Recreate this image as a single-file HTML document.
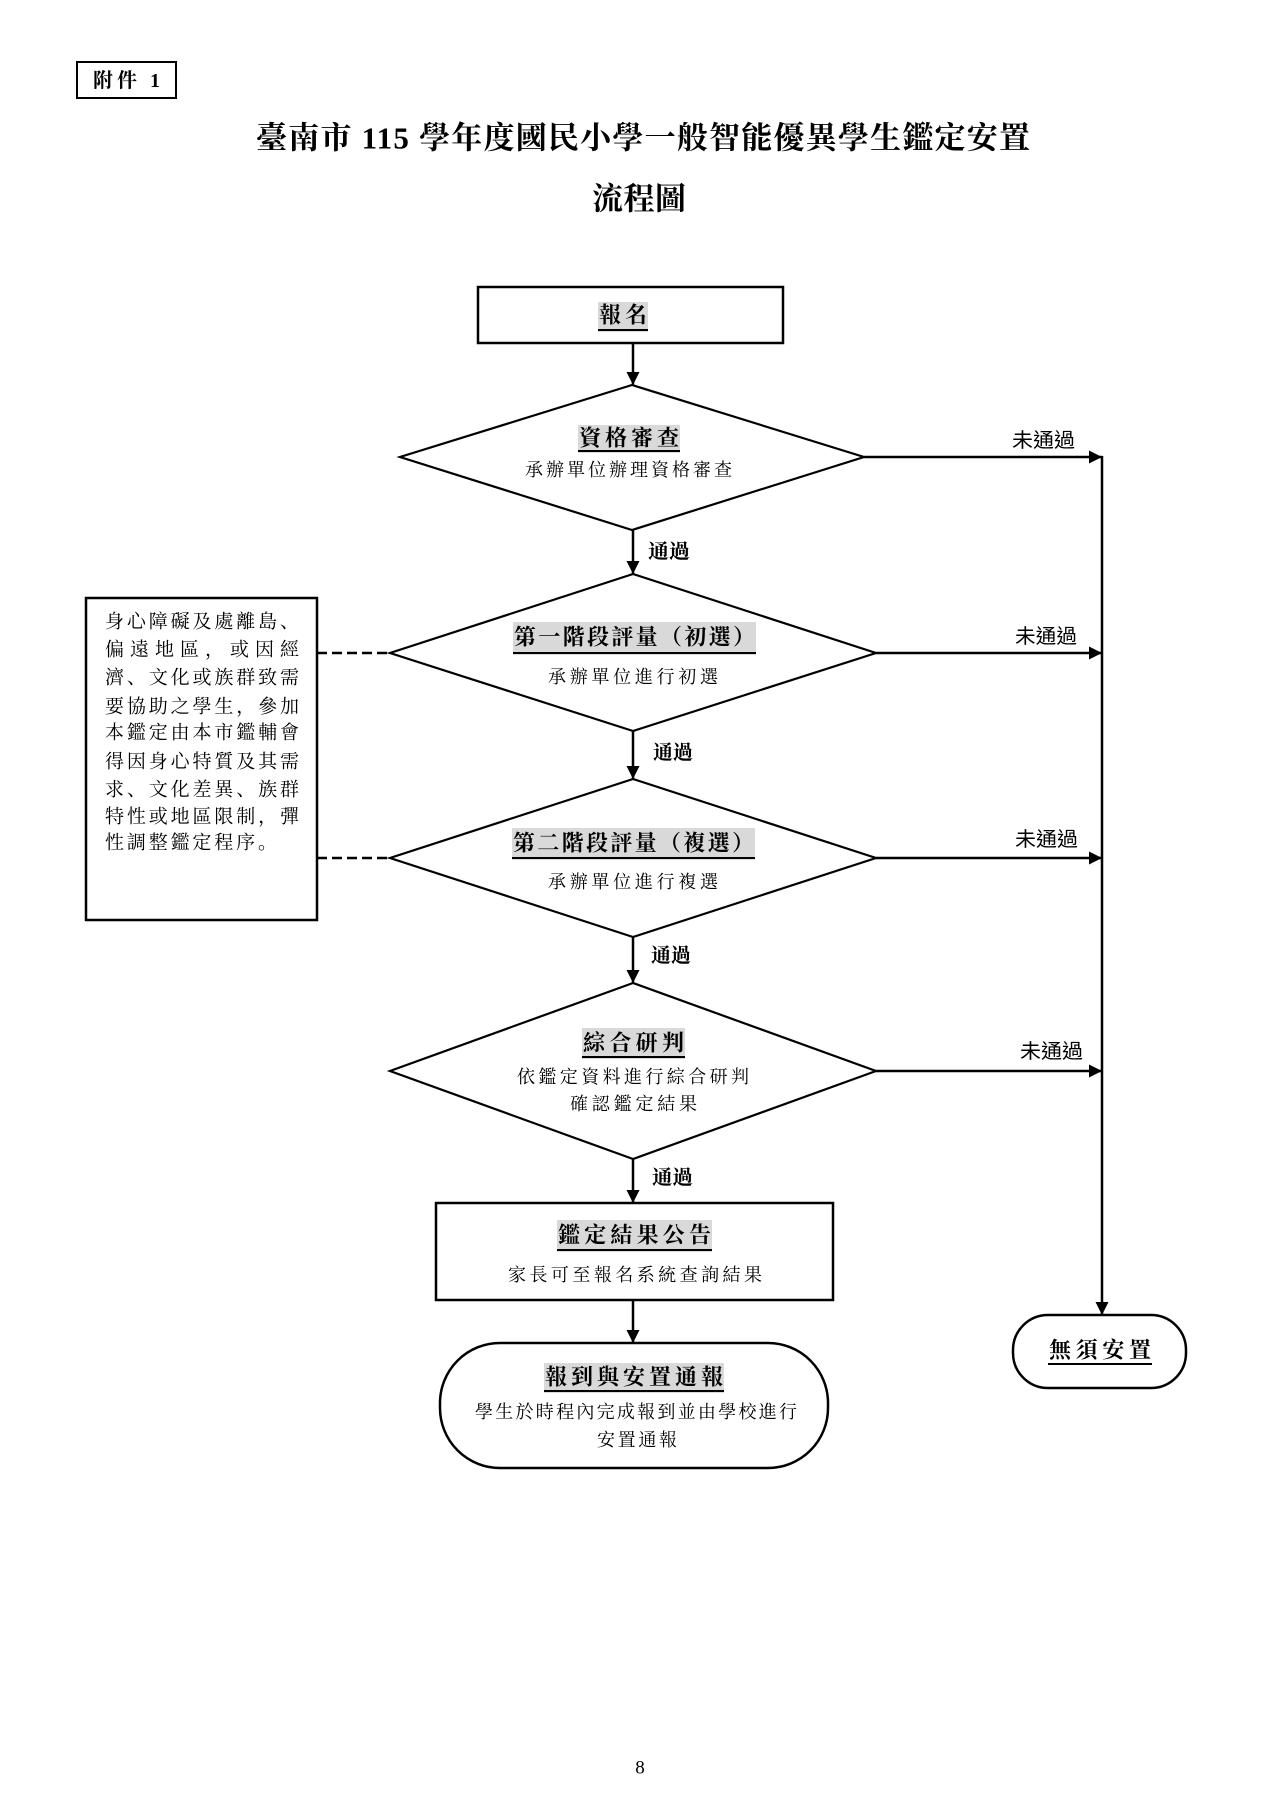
<!DOCTYPE html>
<html>
<head>
<meta charset="utf-8">
<style>
  html, body { margin: 0; padding: 0; background: #fff; }
  body { width: 1280px; height: 1810px; overflow: hidden; }
  svg { display: block; }
  .serif { font-family: "Liberation Serif", "Noto Serif CJK SC", serif; }
  .sans { font-family: "Liberation Sans", "Noto Sans CJK TC", sans-serif; }
  .t { dominant-baseline: central; fill: #000; }
</style>
</head>
<body>
<svg width="1280" height="1810" viewBox="0 0 1280 1810" xmlns="http://www.w3.org/2000/svg">
  <defs>
    <marker id="ah" viewBox="0 0 13 13" refX="13" refY="6.5" markerWidth="13" markerHeight="13" markerUnits="userSpaceOnUse" orient="auto">
      <polygon points="0,0 13,6.5 0,13" fill="#000"/>
    </marker>
  </defs>

  <!-- 附件 1 -->
  <rect x="77" y="62" width="99" height="36" fill="none" stroke="#000" stroke-width="2"/>
  <text class="t serif" x="93" y="81" font-size="20" font-weight="bold" textLength="67" lengthAdjust="spacing">附件 1</text>

  <!-- Title -->
  <text class="t serif" x="256" y="138" font-size="31" font-weight="bold" textLength="774" lengthAdjust="spacing">臺南市 115 學年度國民小學一般智能優異學生鑑定安置</text>
  <text class="t serif" x="592" y="199" font-size="31" font-weight="bold" textLength="94" lengthAdjust="spacing">流程圖</text>

  <!-- 報名 box -->
  <rect x="478" y="287" width="305" height="56" fill="#fff" stroke="#000" stroke-width="2.5"/>
  <rect x="598" y="302" width="50" height="30" fill="#d9d9d9"/>
  <text class="t serif" x="599" y="315" font-size="22" font-weight="bold" textLength="48" lengthAdjust="spacing">報名</text>
  <line x1="598" y1="330" x2="648" y2="330" stroke="#000" stroke-width="2"/>

  <!-- connectors -->
  <g stroke="#000" stroke-width="2.5" fill="none">
    <line x1="633" y1="343" x2="633" y2="385" marker-end="url(#ah)"/>
    <line x1="633" y1="530" x2="633" y2="574" marker-end="url(#ah)"/>
    <line x1="633" y1="731" x2="633" y2="779" marker-end="url(#ah)"/>
    <line x1="633" y1="937" x2="633" y2="983" marker-end="url(#ah)"/>
    <line x1="633" y1="1159" x2="633" y2="1203" marker-end="url(#ah)"/>
    <line x1="633" y1="1300" x2="633" y2="1343" marker-end="url(#ah)"/>
    <line x1="864" y1="457" x2="1102" y2="457" marker-end="url(#ah)"/>
    <line x1="876" y1="653" x2="1102" y2="653" marker-end="url(#ah)"/>
    <line x1="876" y1="858" x2="1102" y2="858" marker-end="url(#ah)"/>
    <line x1="876" y1="1071" x2="1102" y2="1071" marker-end="url(#ah)"/>
    <line x1="1102" y1="456" x2="1102" y2="1315" marker-end="url(#ah)"/>
    <line x1="317" y1="653" x2="390" y2="653" stroke-dasharray="10,5"/>
    <line x1="317" y1="858" x2="390" y2="858" stroke-dasharray="10,5"/>
  </g>

  <!-- Diamonds -->
  <g fill="#fff" stroke="#000" stroke-width="2.2" stroke-linejoin="miter">
    <polygon points="632,385 864,457 632,530 400,457"/>
    <polygon points="633,574 876,653 633,731 390,653"/>
    <polygon points="633,779 876,858 633,937 390,858"/>
    <polygon points="633,983 876,1071 633,1159 390,1071"/>
  </g>

  <!-- D1 text -->
  <rect x="578" y="425" width="102" height="28" fill="#d9d9d9"/>
  <text class="t serif" x="579" y="438" font-size="22" font-weight="bold" textLength="100" lengthAdjust="spacing">資格審查</text>
  <line x1="578" y1="451" x2="680" y2="451" stroke="#000" stroke-width="2"/>
  <text class="t serif" x="525" y="470" font-size="18" textLength="207" lengthAdjust="spacing">承辦單位辦理資格審查</text>

  <!-- D2 text -->
  <rect x="513" y="622" width="243" height="33" fill="#d9d9d9"/>
  <text class="t serif" x="514" y="637" font-size="22" font-weight="bold" textLength="241" lengthAdjust="spacing">第一階段評量（初選）</text>
  <line x1="513" y1="653" x2="756" y2="653" stroke="#000" stroke-width="2"/>
  <text class="t serif" x="548" y="677" font-size="18" textLength="170" lengthAdjust="spacing">承辦單位進行初選</text>

  <!-- D3 text -->
  <rect x="512" y="828" width="243" height="32" fill="#d9d9d9"/>
  <text class="t serif" x="513" y="843" font-size="22" font-weight="bold" textLength="241" lengthAdjust="spacing">第二階段評量（複選）</text>
  <line x1="512" y1="858" x2="755" y2="858" stroke="#000" stroke-width="2"/>
  <text class="t serif" x="548" y="882" font-size="18" textLength="170" lengthAdjust="spacing">承辦單位進行複選</text>

  <!-- D4 text -->
  <rect x="582" y="1028" width="103" height="31" fill="#d9d9d9"/>
  <text class="t serif" x="583" y="1043" font-size="22" font-weight="bold" textLength="101" lengthAdjust="spacing">綜合研判</text>
  <line x1="582" y1="1057" x2="685" y2="1057" stroke="#000" stroke-width="2"/>
  <text class="t serif" x="517" y="1077" font-size="18" textLength="232" lengthAdjust="spacing">依鑑定資料進行綜合研判</text>
  <text class="t serif" x="570" y="1104" font-size="18" textLength="127" lengthAdjust="spacing">確認鑑定結果</text>

  <!-- 鑑定結果公告 box -->
  <rect x="436" y="1203" width="397" height="97" fill="#fff" stroke="#000" stroke-width="2.5"/>
  <rect x="557" y="1220" width="155" height="32" fill="#d9d9d9"/>
  <text class="t serif" x="558" y="1235" font-size="22" font-weight="bold" textLength="153" lengthAdjust="spacing">鑑定結果公告</text>
  <line x1="557" y1="1250" x2="712" y2="1250" stroke="#000" stroke-width="2"/>
  <text class="t serif" x="508" y="1275" font-size="18" textLength="254" lengthAdjust="spacing">家長可至報名系統查詢結果</text>

  <!-- 報到與安置通報 rounded -->
  <rect x="440" y="1343" width="388" height="125" rx="60" ry="60" fill="#fff" stroke="#000" stroke-width="2.5"/>
  <rect x="544" y="1363" width="180" height="30" fill="#d9d9d9"/>
  <text class="t serif" x="545" y="1377" font-size="22" font-weight="bold" textLength="178" lengthAdjust="spacing">報到與安置通報</text>
  <line x1="544" y1="1391" x2="724" y2="1391" stroke="#000" stroke-width="2"/>
  <text class="t serif" x="475" y="1412" font-size="18" textLength="322" lengthAdjust="spacing">學生於時程內完成報到並由學校進行</text>
  <text class="t serif" x="597" y="1440" font-size="18" textLength="80" lengthAdjust="spacing">安置通報</text>

  <!-- 無須安置 -->
  <rect x="1013" y="1315" width="173" height="73" rx="35" ry="35" fill="#fff" stroke="#000" stroke-width="2.5"/>
  <text class="t serif" x="1049" y="1350" font-size="22" font-weight="bold" textLength="102" lengthAdjust="spacing">無須安置</text>
  <line x1="1048" y1="1364" x2="1152" y2="1364" stroke="#000" stroke-width="2"/>

  <!-- 通過 labels -->
  <g class="serif" font-size="20" font-weight="bold">
    <text class="t" x="648" y="552" textLength="42" lengthAdjust="spacingAndGlyphs">通過</text>
    <text class="t" x="653" y="753" textLength="40" lengthAdjust="spacingAndGlyphs">通過</text>
    <text class="t" x="651" y="956" textLength="40" lengthAdjust="spacingAndGlyphs">通過</text>
    <text class="t" x="652" y="1178" textLength="41" lengthAdjust="spacingAndGlyphs">通過</text>
  </g>

  <!-- 未通過 labels -->
  <g class="sans" font-size="20">
    <text class="t" x="1012" y="441" textLength="63" lengthAdjust="spacingAndGlyphs">未通過</text>
    <text class="t" x="1015" y="637" textLength="62" lengthAdjust="spacingAndGlyphs">未通過</text>
    <text class="t" x="1015" y="840" textLength="63" lengthAdjust="spacingAndGlyphs">未通過</text>
    <text class="t" x="1020" y="1052" textLength="63" lengthAdjust="spacingAndGlyphs">未通過</text>
  </g>

  <!-- Left note box -->
  <rect x="86" y="598" width="231" height="322" fill="#fff" stroke="#000" stroke-width="2.5"/>
  <g class="serif" font-size="19">
    <text class="t" x="105" y="622" textLength="194" lengthAdjust="spacing">身心障礙及處離島、</text>
    <text class="t" x="105" y="650" textLength="194" lengthAdjust="spacing">偏遠地區，或因經</text>
    <text class="t" x="105" y="678" textLength="194" lengthAdjust="spacing">濟、文化或族群致需</text>
    <text class="t" x="105" y="707" textLength="194" lengthAdjust="spacing">要協助之學生，參加</text>
    <text class="t" x="105" y="733" textLength="194" lengthAdjust="spacing">本鑑定由本市鑑輔會</text>
    <text class="t" x="105" y="762" textLength="194" lengthAdjust="spacing">得因身心特質及其需</text>
    <text class="t" x="105" y="790" textLength="194" lengthAdjust="spacing">求、文化差異、族群</text>
    <text class="t" x="105" y="817" textLength="194" lengthAdjust="spacing">特性或地區限制，彈</text>
    <text class="t" x="105" y="843" textLength="172" lengthAdjust="spacing">性調整鑑定程序。</text>
  </g>

  <!-- page number -->
  <text class="t serif" x="640" y="1768" font-size="19" text-anchor="middle">8</text>
</svg>
</body>
</html>
